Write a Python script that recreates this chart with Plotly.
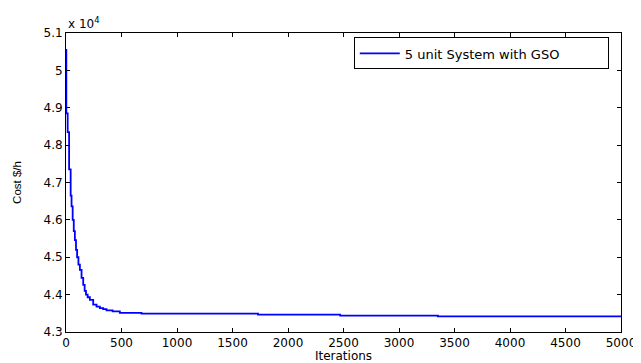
import plotly.graph_objects as go

# Data (cost in units of 10^4 $/h)
iterations = [0, 3, 15, 28, 42, 50, 60, 70, 80, 90, 100, 112, 125, 140, 155, 168,
              180, 195, 215, 245, 275, 305, 335, 365, 420, 485, 680, 1730, 2470,
              3350, 5000]
cost_e4 = [5.055, 4.885, 4.835, 4.735, 4.665, 4.636, 4.600, 4.570, 4.546, 4.520,
           4.500, 4.480, 4.466, 4.445, 4.426, 4.410, 4.400, 4.393, 4.386, 4.373,
           4.368, 4.364, 4.361, 4.358, 4.355, 4.351, 4.349, 4.3465, 4.3438,
           4.342, 4.342]
series_name = "5 unit System with GSO"
x_ticks = list(range(0, 5001, 500))
y_ticks = [4.3, 4.4, 4.5, 4.6, 4.7, 4.8, 4.9, 5.0, 5.1]

FONT = "DejaVu Sans"
FONT2 = "Liberation Sans, Arial, sans-serif"

fig = go.Figure()
fig.add_trace(go.Scatter(
    x=iterations, y=cost_e4, mode="lines", name=series_name,
    line=dict(color="#0000FF", width=1.8, shape="hv"),
))

axis_common = dict(
    showgrid=False, zeroline=False, showline=True, linecolor="black", linewidth=1,
    mirror="ticks", ticks="inside", ticklen=4, tickcolor="black", tickwidth=1,
    tickfont=dict(family=FONT, size=12, color="black"),
    automargin=False,
)

fig.update_layout(
    width=633, height=355,
    margin=dict(l=58, r=20, t=25, b=31),
    paper_bgcolor="white", plot_bgcolor="white",
    showlegend=True,
    legend=dict(
        orientation="h", entrywidth=198, entrywidthmode="pixels",
        x=0.978, y=0.985, xanchor="right", yanchor="top",
        bgcolor="white", bordercolor="black", borderwidth=1,
        font=dict(family=FONT, size=13, color="black"),
        tracegroupgap=0, itemwidth=40,
    ),
    xaxis=dict(range=[0, 5000], tickvals=x_ticks,
               title=dict(text="Iterations", font=dict(family=FONT, size=12, color="black"), standoff=0),
               **axis_common),
    yaxis=dict(range=[4.3, 5.1], tickvals=y_ticks,
               ticktext=[f"{v:g}" for v in y_ticks],
               title=dict(text="Cost $/h", font=dict(family=FONT2, size=11.5, color="black"), standoff=19),
               **axis_common),
)

fig.add_annotation(
    text="x 10<sup>4</sup>", xref="paper", yref="paper", x=0, y=1,
    xanchor="left", yanchor="bottom", showarrow=False, yshift=0,
    font=dict(family=FONT, size=12, color="black"),
)

fig.write_html("out.html")
